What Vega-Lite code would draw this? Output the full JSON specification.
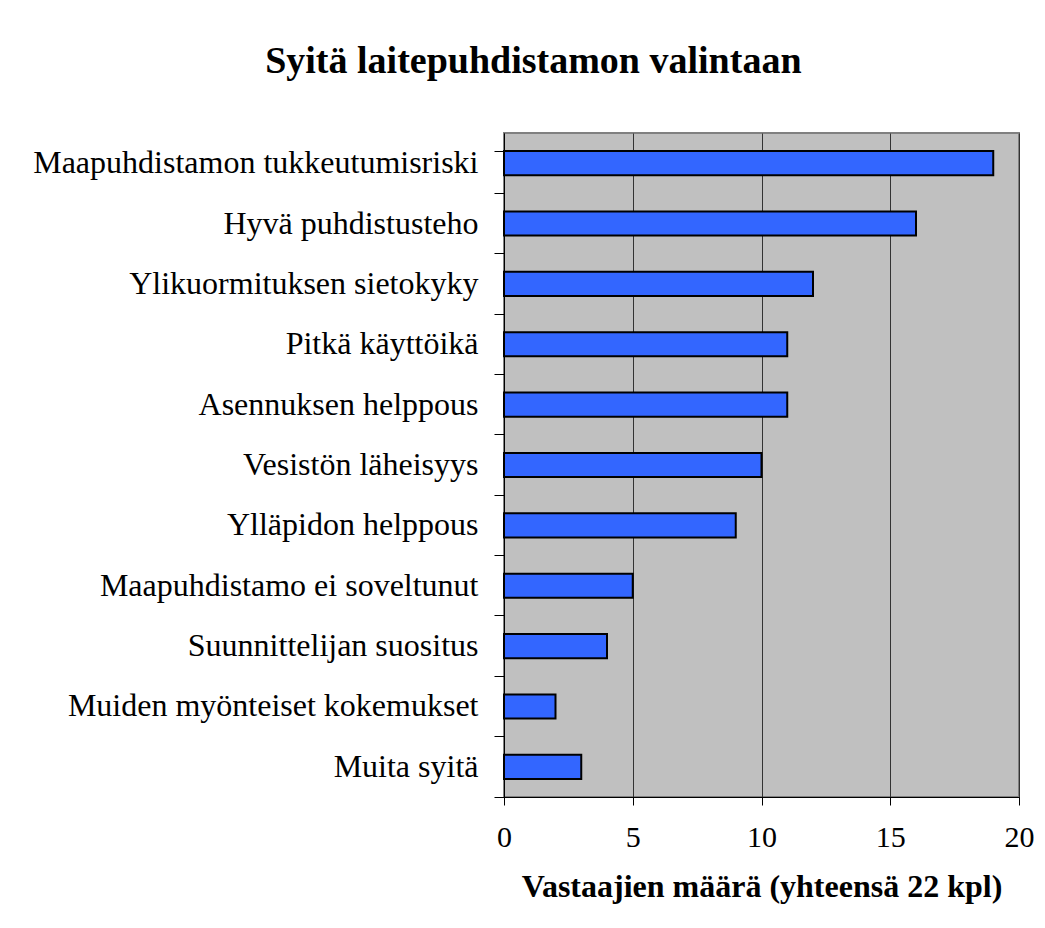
{
  "$schema": "https://vega.github.io/schema/vega-lite/v6.json",
  "width": 515,
  "height": 664,
  "autosize": {"type": "none"},
  "padding": {"left": 504, "top": 133, "right": 26, "bottom": 131},
  "background": "white",
  "title": {
    "text": "Syitä laitepuhdistamon valintaan",
    "font": "Liberation Serif",
    "fontSize": 38,
    "fontWeight": "bold",
    "color": "black",
    "anchor": "middle",
    "frame": "bounds",
    "offset": 36
  },
  "config": {
    "view": {"fill": "#C0C0C0", "stroke": "#808080", "strokeWidth": 2}
  },
  "data": {
    "values": [
      {"syy": "Maapuhdistamon tukkeutumisriski", "maara": 19},
      {"syy": "Hyvä puhdistusteho", "maara": 16},
      {"syy": "Ylikuormituksen sietokyky", "maara": 12},
      {"syy": "Pitkä käyttöikä", "maara": 11},
      {"syy": "Asennuksen helppous", "maara": 11},
      {"syy": "Vesistön läheisyys", "maara": 10},
      {"syy": "Ylläpidon helppous", "maara": 9},
      {"syy": "Maapuhdistamo ei soveltunut", "maara": 5},
      {"syy": "Suunnittelijan suositus", "maara": 4},
      {"syy": "Muiden myönteiset kokemukset", "maara": 2},
      {"syy": "Muita syitä", "maara": 3}
    ]
  },
  "mark": {"type": "bar", "color": "#3366FF", "stroke": "black", "strokeWidth": 2},
  "encoding": {
    "y": {
      "field": "syy",
      "type": "nominal",
      "sort": null,
      "scale": {"paddingInner": 0.6, "paddingOuter": 0.3},
      "axis": {
        "title": null,
        "bandPosition": 1.75,
        "tickExtra": true,
        "tickSize": 10,
        "tickColor": "black",
        "domainColor": "black",
        "labelPadding": 16,
        "labelFont": "Liberation Serif",
        "labelFontSize": 32,
        "labelColor": "black",
        "labelLimit": 600
      }
    },
    "x": {
      "field": "maara",
      "type": "quantitative",
      "scale": {"domain": [0, 20], "nice": false},
      "axis": {
        "title": "Vastaajien määrä (yhteensä 22 kpl)",
        "titleFont": "Liberation Serif",
        "titleFontSize": 32,
        "titleFontWeight": "bold",
        "titleColor": "black",
        "titlePadding": 19,
        "values": [0, 5, 10, 15, 20],
        "tickSize": 8,
        "tickColor": "black",
        "domainColor": "black",
        "grid": true,
        "gridColor": "#333333",
        "gridWidth": 1,
        "labelPadding": 17,
        "labelFont": "Liberation Serif",
        "labelFontSize": 30,
        "labelColor": "black",
        "labelFlush": false
      }
    }
  }
}
